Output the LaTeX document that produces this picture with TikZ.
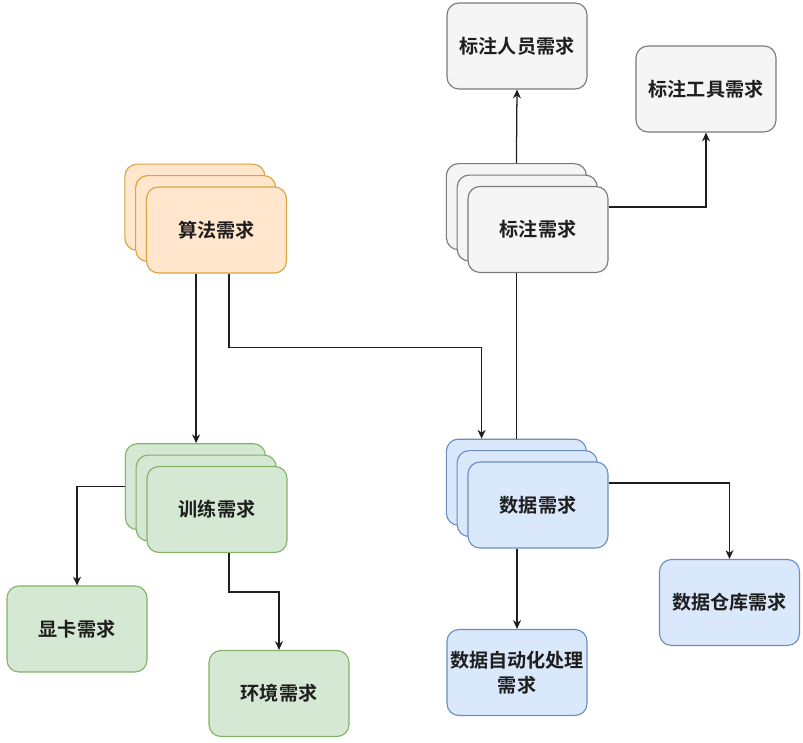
\documentclass[tikz,border=0pt]{standalone}
\usepackage{fontspec}
\usepackage{tikz}
\usetikzlibrary{arrows.meta,positioning,calc,shadows}
\newfontfamily\cjk{Noto Sans CJK SC}[BoldFont={Noto Sans CJK SC Bold}]
\definecolor{paper}{HTML}{F5F5F5}
\definecolor{paperline}{HTML}{7A7A7A}
\definecolor{peach}{HTML}{FFE6CC}
\definecolor{peachline}{HTML}{D9A441}
\definecolor{mint}{HTML}{D5E8D4}
\definecolor{mintline}{HTML}{82B366}
\definecolor{ice}{HTML}{DAE8FC}
\definecolor{iceline}{HTML}{6C8EBF}
\definecolor{ink}{HTML}{1E1E1E}
\tikzset{
  req/.style={draw=#1line,fill=#1,rounded corners=0.3cm,line width=0.8pt,align=center,
    minimum width=3.5cm,minimum height=2.15cm,inner sep=1pt,text=ink,
    font=\cjk\bfseries\fontsize{13.6}{17.8}\selectfont},
  stack/.style={copy shadow={shadow xshift=-0.54cm,shadow yshift=0.57cm},
    copy shadow={shadow xshift=-0.27cm,shadow yshift=0.285cm}},
  flow/.style={-{Stealth[length=2.2mm,width=2mm]},line width=0.9pt,draw=ink},
  link/.style={line width=0.9pt,draw=ink},
}

\begin{document}
\begin{tikzpicture}[x=0.025cm,y=-0.025cm]
  \useasboundingbox (0,0) rectangle (803,743);
  \node[req=paper] (staffreq) at (517,46) {标注人员需求};
  \node[req=paper] (toolreq) at (706,89) {标注工具需求};
  \node[req=peach,stack] (algo) at (216.5,230) {算法需求};
  \node[req=paper,stack] (labelreq) at (538,229.5) {标注需求};
  \node[req=mint,stack] (train) at (217,509.5) {训练需求};
  \node[req=ice,stack] (data) at (538,505) {数据需求};
  \node[req=mint] (gpu) at (77,629) {显卡需求};
  \node[req=mint] (env) at (279,693.5) {环境需求};
  \node[req=ice] (auto) at (517,672.5) {数据自动化处理\\需求};
  \node[req=ice] (store) at (729.5,602.5) {数据仓库需求};
  % top edges of the rearmost copies
  \coordinate (labelback) at ([shift={(-0.54cm,0.57cm)}]labelreq.north);
  \coordinate (trainback) at ([shift={(-0.54cm,0.57cm)}]train.north);
  \coordinate (databack) at ([shift={(-0.54cm,0.57cm)}]data.north);
  \draw[flow] (labelback) -- (staffreq.south);
  \draw[flow] ([yshift=0.56cm]labelreq.east) -| (toolreq.south);
  \draw[link] (labelreq.south -| databack) -- (databack);
  \draw[flow] ([xshift=-0.51cm]algo.south) -- ([xshift=-0.51cm]algo.south |- trainback);
  \draw[flow] ([xshift=0.31cm]algo.south) -- ++(0,74) -| ([xshift=-0.87cm]databack);
  \draw[flow] ([shift={(-0.54cm,0.57cm)}]train.west) -| (gpu.north);
  \draw[flow] ([xshift=0.3cm]train.south) -- ++(0,39) -| (env.north);
  \draw[flow] (data.south -| auto.north) -- (auto.north);
  \draw[flow] ([yshift=0.55cm]data.east) -| (store.north);
\end{tikzpicture}
\end{document}
